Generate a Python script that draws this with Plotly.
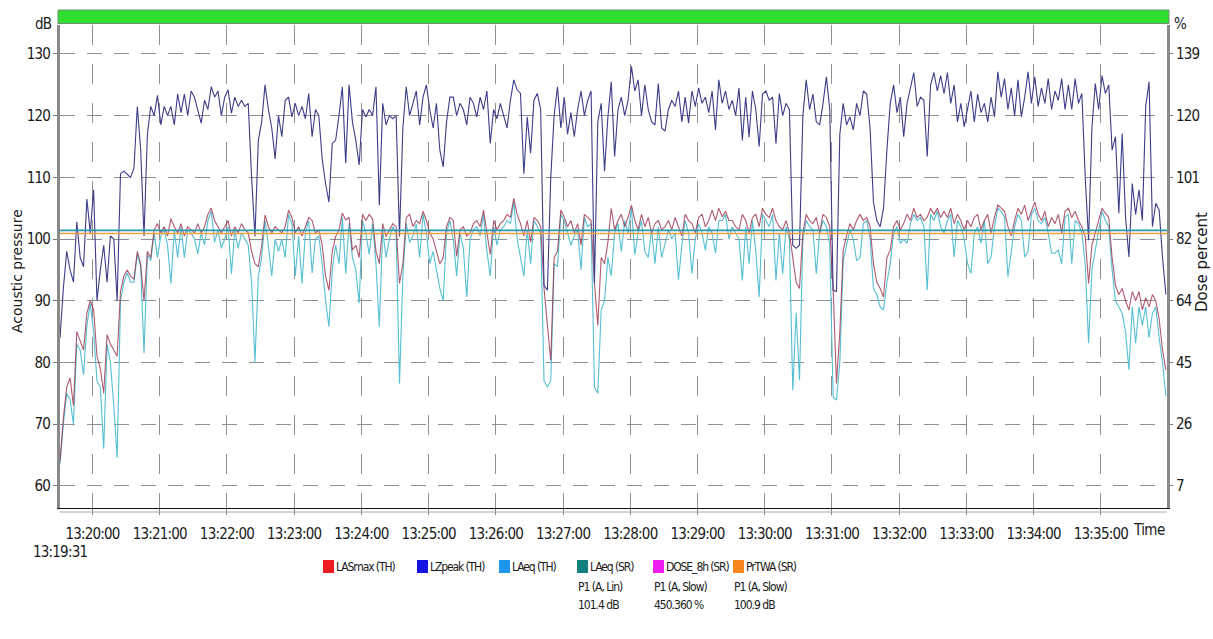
import plotly.graph_objects as go

# ---------------------------------------------------------------------------
# Noise log, channel P1, one reading every 3 s starting at 13:19:31.
# Each inner list holds one minute of readings (20 values, dB).
# ---------------------------------------------------------------------------
START_HMS = (13, 19, 31)
STEP_S = 3
ROW_S = 60

LZPEAK_TH = [
    [84, 92, 98, 95, 93, 102.8, 97, 95.5, 106.5, 101, 108, 90, 95, 99, 93, 100.5, 100, 90, 110.6, 111],
    [110.5, 110, 111.5, 121.5, 114.5, 100.5, 117, 121.5, 120, 123.3, 118.5, 121.5, 120, 121.5, 118.5, 123.5, 120.5, 123.5, 120, 124],
    [123, 121, 118.8, 122.5, 121, 124.7, 123, 124, 120, 123, 124.2, 120.4, 123, 121.5, 122.5, 121.5, 122, 110, 100.4, 116],
    [119, 125, 121, 118, 113, 120, 116.6, 122.5, 123, 119.8, 122, 120, 121.5, 119.5, 123.6, 116.6, 121, 120, 113, 109],
    [106, 115.5, 116, 120, 124.7, 112.3, 125, 119, 116, 112, 121, 119.8, 121, 120, 124.7, 105.5, 122, 118.5, 120, 119.5],
    [120, 100.4, 118, 124.7, 120, 122, 124, 118.5, 123, 125, 121, 118, 122, 114.4, 111.7, 119, 123, 123, 120, 122],
    [121, 118.5, 123, 122, 119.8, 123, 121, 124, 115.5, 121, 119.5, 122, 120, 118, 122.5, 125.8, 124.2, 123.6, 110.6, 119.8],
    [113.9, 122.5, 123.6, 121, 92.5, 91.7, 110, 120, 124.7, 118, 123, 117, 120.5, 116.6, 121, 124, 120, 122.5, 124, 92.8],
    [119, 122, 111, 119.8, 125.5, 113.4, 121, 123, 120, 122.5, 128, 124, 125.8, 120, 125, 121, 119, 118.5, 125.2, 118],
    [117.5, 121, 122.5, 121.5, 124, 119, 123, 118.8, 124, 121.5, 124.5, 122, 123, 120.5, 124, 117.7, 125.8, 122, 124, 121],
    [122.5, 120, 124.5, 116, 123, 116.5, 124, 121, 115, 123.5, 124, 122.5, 123, 115.5, 123.6, 120, 122, 121, 99, 98.5],
    [99, 120, 125.8, 121, 123.5, 119, 118.5, 122, 126.3, 121, 91.7, 91.5, 117, 122, 118.5, 119.8, 117.7, 122, 120, 124],
    [123.5, 118, 106, 103, 102, 105, 114.4, 122, 125, 120.5, 123, 116.6, 122, 124.5, 127, 121.5, 123, 122.5, 113.4, 125],
    [127, 124, 126.5, 123.6, 127, 122, 125, 119, 122, 118.2, 121, 124, 119, 123.5, 120.5, 122, 119, 123, 119.8, 127.1],
    [123, 126, 121, 124.5, 120, 125.8, 119.8, 123, 127.1, 122, 126.3, 121.5, 124.5, 122, 126, 121, 124, 122.5, 126, 121],
    [125, 121, 126, 122, 123.6, 110.1, 99.8, 118, 125.2, 121, 126.5, 123.6, 125, 114.4, 116.6, 104.2, 117.1, 103.6, 97.1, 109],
    [104, 108, 103, 121.5, 125.5, 102, 105.8, 104.7, 97, 91],
]

LASMAX_TH = [
    [64, 71, 76, 77.5, 73, 85, 83.5, 82, 88, 90, 88.5, 81, 79, 75, 84.5, 83, 82, 81, 91.5, 94],
    [95, 94, 93.5, 98, 96, 90, 98, 97, 101.5, 102.5, 101, 102, 100.5, 103.3, 102, 101, 102.5, 100.5, 102, 101.5],
    [101, 102.5, 101, 102, 104, 105, 103, 102, 101, 102, 103, 100.5, 102, 101, 102.5, 101.5, 101, 98, 96, 95.5],
    [99, 103.9, 102, 101, 102, 101.5, 101, 102, 104.7, 103.5, 101, 102, 100.5, 102, 103.5, 103, 101, 101.5, 99, 94],
    [91.7, 98, 100.4, 101.5, 104.2, 103.1, 103.5, 98.2, 99, 97, 104, 103, 104, 103.2, 98, 96, 102.5, 100.4, 101.5, 102.5],
    [102, 92.8, 96, 103.5, 104, 102, 103, 102.5, 104.5, 103, 101, 100, 98, 96, 97, 102, 103.5, 103, 97.2, 101.5],
    [102, 100.5, 101, 102.5, 103, 102, 104.7, 101, 97.5, 103, 101.5, 102.5, 103, 104, 103.5, 106.6, 104, 102.5, 100.5, 103],
    [99.5, 103.5, 103, 102, 92, 86, 80.3, 97, 98, 104.7, 103.6, 102, 103, 101, 102.5, 99, 104, 103.5, 103, 92.8],
    [86, 97, 96, 99.5, 105, 101.5, 103, 104, 102, 103.5, 105.5, 103, 101.5, 104, 102, 103.5, 101, 102.5, 103, 101.5],
    [102, 103, 101.5, 103.5, 102, 100.5, 104, 103, 102.5, 101, 103.5, 104, 102, 103, 104.7, 103, 105, 103.6, 104.5, 103],
    [103, 102, 101.5, 104, 103, 101, 103.5, 104, 102, 105, 104, 103.5, 105, 103, 102, 101.5, 103, 101, 97, 93],
    [92, 101, 104, 103, 102.5, 103.5, 101, 104, 103.5, 102, 92, 76.6, 85, 98.2, 100.5, 102.5, 101.5, 103, 104, 103],
    [103.5, 102, 96, 93, 92, 90.6, 97, 98.2, 102, 103, 101.5, 102.5, 104, 103, 105, 103.5, 104, 103, 103.5, 105],
    [104, 105, 103.5, 104.5, 103.5, 105, 102.5, 104, 103, 101.5, 103, 102, 103.5, 104, 101.5, 103, 104, 101, 103.5, 105.5],
    [105, 104.5, 102, 100.5, 103, 105, 104, 105.5, 103, 104.5, 106, 104, 103, 104.5, 102, 103.5, 102.5, 104, 101, 104.5],
    [105, 103.5, 104.5, 103, 102, 100.4, 92.8, 99, 101, 103, 105, 104.2, 103.5, 97, 92.5, 91, 92, 90, 88.5, 91.5],
    [90, 91.5, 88.5, 90.5, 89, 91, 90, 87, 82, 78.8],
]

LAEQ_TH = [
    [63.5, 70, 75, 74, 70, 83, 82, 78, 86, 89.5, 85, 77, 76, 66, 83, 80, 73, 64.5, 90, 93],
    [94.5, 93, 93, 97.5, 95.5, 81.5, 97.5, 96.5, 101, 97, 100.5, 101.5, 99, 92.8, 101.5, 97, 102, 97, 101.5, 101],
    [100, 97.6, 101, 99, 103, 104.5, 99.5, 101.5, 98.5, 100, 102, 94.4, 101.5, 98.5, 101, 100, 99, 93, 80.1, 94],
    [97, 103, 99, 94, 100, 98, 100, 97, 104, 102.5, 94, 100.5, 92.8, 101, 103, 94.5, 100, 100.5, 96, 90],
    [85.8, 95, 99, 96, 103.5, 94.4, 102.5, 97, 95, 89.6, 103, 101, 97.5, 102.5, 96, 85.8, 101.5, 97, 100, 102],
    [101, 76.6, 94, 102.5, 99.5, 100.5, 102.5, 97, 104, 101, 96, 98, 95, 92, 90, 101, 103, 100, 94, 101],
    [98.5, 90.6, 100, 101.5, 102, 100.5, 104, 98, 94, 102, 99, 101.5, 102, 103, 102.5, 106, 100, 97.2, 94, 101.5],
    [96, 103, 102, 101, 77, 76, 77, 96, 95.5, 104, 103, 101, 99, 100.5, 101.5, 95, 103.5, 102, 102.5, 76],
    [75, 88.5, 90, 97, 94, 101, 102.5, 98, 103, 101, 105, 97.5, 101, 103, 98, 97, 101.5, 96, 102, 97],
    [99.3, 101.5, 100, 101, 93.4, 99, 103, 101, 94.4, 100, 102.5, 101, 98.2, 102, 101, 97.7, 103, 103, 104, 100],
    [102, 101, 100, 93.3, 102, 96, 103, 98, 90.6, 104, 103, 102, 104, 93.3, 101, 94.4, 102, 100, 75.5, 88],
    [77.1, 100, 103, 102, 101.5, 94.4, 101, 103, 102, 99, 74.4, 73.9, 80, 96.5, 99, 101.5, 100, 96.5, 97, 102.5],
    [103, 100, 92, 91, 89, 88.5, 93, 96, 101, 102, 99.3, 100, 99.3, 102.5, 104, 103, 103.5, 102, 91.7, 104],
    [103, 104.5, 102, 101, 103, 104, 97.1, 103, 102, 100, 96, 94.4, 101, 102, 99.3, 103, 96, 97.1, 102, 105],
    [104.5, 103.5, 93.9, 98, 102, 104, 103, 97.1, 98, 104, 105, 103, 102.5, 103.5, 101, 97.7, 97.7, 98.2, 96, 103.5],
    [104, 96, 103, 102.5, 101, 96, 83.1, 95, 98.2, 102, 104.5, 103, 102, 95, 90, 89, 88, 85, 78.8, 89],
    [83.1, 89, 86, 89, 84, 88, 89, 84, 80, 74.5],
]

# Single-value results for the whole run
LAEQ_SR_DB = 101.4
PRTWA_SR_DB = 100.9
DOSE_8H_SR_PCT = 450.360

# Axes
Y_TICKS_DB = [60, 70, 80, 90, 100, 110, 120, 130]
Y_TICKS_PCT = ["7", "26", "45", "64", "82", "101", "120", "139"]
Y_RANGE_DB = [56.4, 134.7]
PCT_AT_60_DB, PCT_AT_130_DB = 7.0, 139.0
TIME_TICKS = ["13:20:00", "13:21:00", "13:22:00", "13:23:00", "13:24:00", "13:25:00",
              "13:26:00", "13:27:00", "13:28:00", "13:29:00", "13:30:00", "13:31:00",
              "13:32:00", "13:33:00", "13:34:00", "13:35:00"]
RUN_LENGTH_S = 988

# Legend entries: name, swatch colour, extra lines
LEGEND = [
    ("LASmax (TH)", "#ee1a22", []),
    ("LZpeak (TH)", "#1414e0", []),
    ("LAeq (TH)", "#1e96f0", []),
    ("LAeq (SR)", "#12807e", ["P1 (A, Lin)", f"{LAEQ_SR_DB} dB"]),
    ("DOSE_8h (SR)", "#f01ef0", ["P1 (A, Slow)", f"{DOSE_8H_SR_PCT:.3f} %"]),
    ("PrTWA (SR)", "#f8861e", ["P1 (A, Slow)", f"{PRTWA_SR_DB} dB"]),
]

# ---------------------------------------------------------------------------
W, H = 1213, 639
L, R, T, B = 60, 1167, 25, 508          # plot area edges in pixels
PW, PH = R - L, B - T
COND = "DejaVu Sans Condensed, DejaVu Sans, sans-serif"
WIDE = "DejaVu Sans, Verdana, sans-serif"
INK = "#1a1a1a"


def tight(text, spacing):
    """Wrap a label so its glyphs sit closer together."""
    return f"<span style='letter-spacing:{spacing}px'>{text}</span>"


def hms_to_s(text):
    h, m, s = (int(p) for p in text.split(":"))
    return h * 3600 + m * 60 + s


T0 = START_HMS[0] * 3600 + START_HMS[1] * 60 + START_HMS[2]


def series(rows):
    xs, ys = [], []
    for r, row in enumerate(rows):
        for i, v in enumerate(row):
            xs.append(T0 + r * ROW_S + i * STEP_S)
            ys.append(v)
    return xs, ys


def db_to_pct(db):
    return PCT_AT_60_DB + (db - 60) * (PCT_AT_130_DB - PCT_AT_60_DB) / 70.0


def px_x(p):
    return (p - L) / PW


def px_y(p):
    return (B - p) / PH


fig = go.Figure()

x_eq, y_eq = series(LAEQ_TH)
x_mx, y_mx = series(LASMAX_TH)
x_pk, y_pk = series(LZPEAK_TH)

fig.add_trace(go.Scatter(x=x_eq, y=y_eq, mode="lines", name="LAeq (TH)",
                         line=dict(color="#55bfd3", width=1.1)))
fig.add_trace(go.Scatter(x=x_mx, y=y_mx, mode="lines", name="LASmax (TH)",
                         line=dict(color="#962440", width=1.1), opacity=0.75))
fig.add_trace(go.Scatter(x=x_pk, y=y_pk, mode="lines", name="LZpeak (TH)",
                         line=dict(color="#3d3d88", width=1.1)))

x_span = [T0, T0 + RUN_LENGTH_S]
fig.add_trace(go.Scatter(x=x_span, y=[DOSE_8H_SR_PCT] * 2, mode="lines", name="DOSE_8h (SR)",
                         yaxis="y2", line=dict(color="#f01ef0", width=1.5)))
fig.add_trace(go.Scatter(x=x_span, y=[PRTWA_SR_DB] * 2, mode="lines", name="PrTWA (SR)",
                         line=dict(color="#eea040", width=1.6)))
fig.add_trace(go.Scatter(x=x_span, y=[LAEQ_SR_DB] * 2, mode="lines", name="LAeq (SR)",
                         line=dict(color="#2e96b0", width=1.6)))

TICK_FONT = dict(family=COND, size=15, color=INK)
grid = "#8f8f8f"
fig.update_layout(
    width=W, height=H,
    margin=dict(l=L, r=W - R, t=T, b=H - B, pad=0),
    paper_bgcolor="white", plot_bgcolor="white",
    showlegend=False,
    font=dict(family=COND, size=15, color=INK),
    xaxis=dict(
        range=x_span,
        tickvals=[hms_to_s(t) for t in TIME_TICKS],
        ticktext=[tight(t, -0.8) for t in TIME_TICKS],
        showgrid=True, gridcolor=grid, gridwidth=1, griddash="20px,19px",
        showline=True, linecolor="#111111", linewidth=1,
        ticks="outside", ticklen=6, tickcolor="#888888",
        ticklabelstandoff=6, zeroline=False, tickfont=TICK_FONT,
    ),
    yaxis=dict(
        range=Y_RANGE_DB, tickvals=Y_TICKS_DB,
        ticktext=[tight(str(v), -0.8) for v in Y_TICKS_DB],
        showgrid=True, gridcolor=grid, gridwidth=1, griddash="15px,12px",
        showline=True, linecolor="#8a8a8a", linewidth=3,
        ticks="outside", ticklen=4, tickcolor="#777777",
        zeroline=False, tickfont=TICK_FONT,
    ),
    yaxis2=dict(
        overlaying="y", side="right",
        range=[db_to_pct(v) for v in Y_RANGE_DB],
        tickvals=[db_to_pct(v) for v in Y_TICKS_DB],
        ticktext=[tight(t, -0.8) for t in Y_TICKS_PCT],
        showgrid=False, showline=True, linecolor="#8a8a8a", linewidth=3,
        ticks="outside", ticklen=3, tickcolor="#777777",
        zeroline=False, tickfont=TICK_FONT,
    ),
)

shapes = [
    # status bar above the plot
    dict(type="rect", xref="paper", yref="paper",
         x0=px_x(58), x1=px_x(1169), y0=px_y(23.5), y1=px_y(10),
         fillcolor="#2fdf2f", line=dict(color="#6f8f6f", width=1), layer="above"),
    # second rule under the time axis
    dict(type="line", xref="paper", yref="paper",
         x0=0, x1=1, y0=px_y(512), y1=px_y(512),
         line=dict(color="#a8a8a8", width=1)),
]

annotations = [
    dict(text=tight("dB", -0.8), xref="paper", yref="paper", x=px_x(54), y=px_y(24),
         xanchor="right", yanchor="middle", showarrow=False, font=dict(size=15)),
    dict(text="%", xref="paper", yref="paper", x=px_x(1172), y=px_y(24),
         xanchor="left", yanchor="middle", showarrow=False, font=dict(size=15)),
    dict(text="Acoustic pressure", xref="paper", yref="paper", x=px_x(17), y=px_y(271),
         xanchor="center", yanchor="middle", textangle=-90, showarrow=False,
         font=dict(family=WIDE, size=14)),
    dict(text="Dose percent", xref="paper", yref="paper", x=px_x(1202), y=px_y(262),
         xanchor="center", yanchor="middle", textangle=-90, showarrow=False,
         font=dict(family=WIDE, size=15)),
    dict(text=tight("13:19:31", -0.8), xref="x", yref="paper", x=T0, y=px_y(552),
         xanchor="center", yanchor="middle", showarrow=False, font=dict(size=15)),
    dict(text=tight("Time", -0.6), xref="paper", yref="paper", x=1, y=px_y(530),
         xanchor="right", yanchor="middle", showarrow=False, font=dict(size=15)),
]

# legend row under the chart
LEGEND_X_PX = [323, 417, 499, 577, 653, 733]
LEGEND_FONT = dict(family=COND, size=12, color=INK)
for (name, colour, extra), lx in zip(LEGEND, LEGEND_X_PX):
    shapes.append(dict(type="rect", xref="paper", yref="paper",
                       x0=px_x(lx), x1=px_x(lx + 11), y0=px_y(573), y1=px_y(560),
                       fillcolor=colour, line=dict(width=0)))
    annotations.append(dict(text=tight(name, -1.1), xref="paper", yref="paper",
                            x=px_x(lx + 11), y=px_y(567), xanchor="left", yanchor="middle",
                            showarrow=False, font=LEGEND_FONT))
    for k, line in enumerate(extra):
        annotations.append(dict(text=tight(line, -1.0), xref="paper", yref="paper",
                                x=px_x(lx - 1), y=px_y(587 + 18 * k), xanchor="left",
                                yanchor="middle", showarrow=False, font=LEGEND_FONT))

fig.update_layout(shapes=shapes, annotations=annotations)
fig.write_html("out.html")
